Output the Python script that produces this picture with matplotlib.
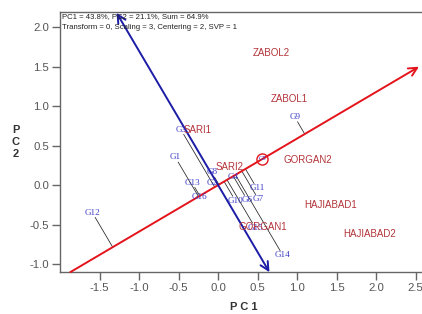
import numpy as np
import matplotlib.pyplot as plt

# genotipos (PC1, PC2)
genotipos = ['G1', 'G2', 'G3', 'G4', 'G6', 'G7', 'G8', 'G9', 'G10',
             'G11', 'G12', 'G13', 'G14', 'G15', 'G16']
gen_pc1 = [-0.54, -0.08, -0.47, 0.19, 0.37, 0.51, -0.08, 0.97, 0.22,
           0.49, -1.59, -0.33, 0.82, 0.47, -0.24]
gen_pc2 = [0.35, 0.03, 0.70, 0.10, -0.19, -0.18, 0.16, 0.86, -0.20,
           -0.04, -0.35, 0.03, -0.89, -0.54, -0.15]

# ambientes (PC1, PC2)
ambientes = ['ZABOL2', 'ZABOL1', 'SARI1', 'SARI2', 'GORGAN2', 'GORGAN1',
             'HAJIABAD1', 'HAJIABAD2']
amb_pc1 = [0.67, 0.90, -0.26, 0.15, 1.13, 0.56, 1.42, 1.92]
amb_pc2 = [1.67, 1.09, 0.70, 0.23, 0.32, -0.53, -0.25, -0.62]

# ambiente medio (AEC)
aec = (0.56, 0.33)

RED = '#e3141c'
BLUE = '#1c1ca6'
ENV_COLOR = '#b3343a'
GEN_COLOR = '#3a3ac8'

fig = plt.figure(figsize=(4.22, 3.14), dpi=100)
ax = fig.add_axes([60 / 422, 42 / 314, 366 / 422, 260 / 314])
ax.set_xlim(-2.0, 2.63)
ax.set_ylim(-1.10, 2.19)

u = np.array(aec) / np.hypot(*aec)
v = np.array([-u[1], u[0]])

# eixo AEC (abscissa) com seta
ax.annotate('', xy=2.95 * u, xytext=-2.17 * u,
            arrowprops=dict(arrowstyle='->', color=RED, lw=1.4,
                            mutation_scale=15, shrinkA=0, shrinkB=0))
# ordenada AEC
ax.annotate('', xy=-1.28 * v, xytext=2.53 * v,
            arrowprops=dict(arrowstyle='<->', color=BLUE, lw=1.4,
                            mutation_scale=15, shrinkA=0, shrinkB=0))

# projecoes dos genotipos sobre o eixo AEC
for x, y in zip(gen_pc1, gen_pc2):
    p = np.array([x, y])
    foot = np.dot(p, u) * u
    d = foot - p
    dist = np.hypot(*d)
    start = p + d * min(1.0, 0.07 / dist) if dist > 0 else p
    ax.plot([start[0], foot[0]], [start[1], foot[1]], color='#222222', lw=0.55)

# circulo do ambiente medio
ax.plot(aec[0], aec[1], 'o', ms=8, mfc='none', mec=RED, mew=1.0)
ax.text(aec[0], aec[1], 'G5', color=GEN_COLOR, fontsize=4.5,
        family='Liberation Serif', ha='center', va='center')

for nome, x, y in zip(genotipos, gen_pc1, gen_pc2):
    ax.text(x, y, nome, color=GEN_COLOR, fontsize=6.6,
            family='Liberation Serif', ha='center', va='center')

for nome, x, y in zip(ambientes, amb_pc1, amb_pc2):
    ax.text(x, y, nome, color=ENV_COLOR, fontsize=7,
            family='Liberation Sans', ha='center', va='center')

ax.text(0.006, 0.981, 'PC1 = 43.8%, PC2 = 21.1%, Sum = 64.9%',
        transform=ax.transAxes, fontsize=5.6, family='Liberation Sans',
        color='#222222', va='center', ha='left')
ax.text(0.006, 0.942, 'Transform = 0, Scaling = 3, Centering = 2, SVP = 1',
        transform=ax.transAxes, fontsize=5.6, family='Liberation Sans',
        color='#222222', va='center', ha='left')

ax.set_xticks([-1.5, -1.0, -0.5, 0.0, 0.5, 1.0, 1.5, 2.0, 2.5])
ax.set_yticks([-1.0, -0.5, 0.0, 0.5, 1.0, 1.5, 2.0])
ax.xaxis.set_major_formatter(plt.FormatStrFormatter('%.1f'))
ax.yaxis.set_major_formatter(plt.FormatStrFormatter('%.1f'))
ax.tick_params(direction='out', length=6, width=1, color='#666666',
               labelcolor='#555555', labelsize=8.2, pad=2)
for lbl in ax.get_xticklabels() + ax.get_yticklabels():
    lbl.set_family('Liberation Sans')
for s in ['left', 'bottom', 'top']:
    ax.spines[s].set_color('#666666')
    ax.spines[s].set_linewidth(1)
ax.spines['right'].set_visible(False)

fig.text(244 / 422, 1 - 307 / 314, 'P C 1', fontsize=8, fontweight='bold',
         family='Liberation Sans', color='#333333', ha='center', va='center')
fig.text(16 / 422, 1 - 142 / 314, 'P\nC\n2', fontsize=8, fontweight='bold',
         family='Liberation Sans', color='#333333', ha='center', va='center',
         linespacing=1.3)

fig.savefig('out.png', dpi=100)
